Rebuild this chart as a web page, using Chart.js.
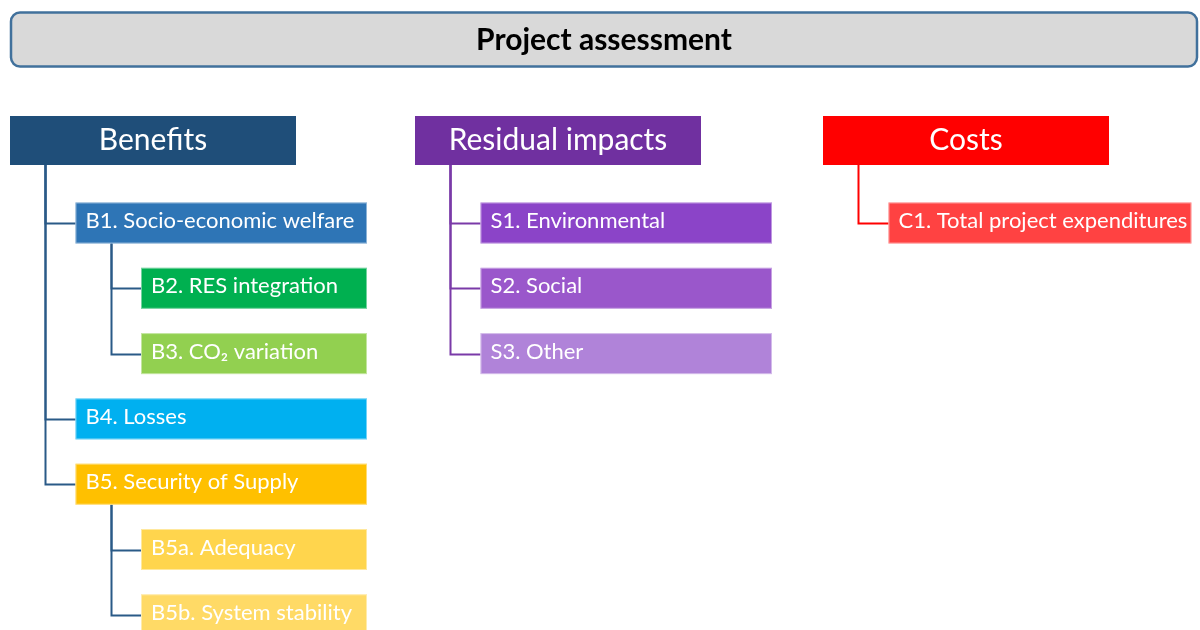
<!DOCTYPE html>
<html>
<head>
<meta charset="utf-8">
<title>Project assessment</title>
<script src="https://cdn.jsdelivr.net/npm/chart.js@4.4.1/dist/chart.umd.min.js"></script>
<style>
    html, body { margin: 0; padding: 0; background: #ffffff; }
    #wrap { width: 1200px; height: 630px; position: relative; }
</style>
</head>
<body>
<div id="wrap"><canvas id="myChart"></canvas></div>
<script>
// Start Data
const TITLE = 'Project assessment';
const GROUPS = ['Benefits', 'Residual impacts', 'Costs'];

const BENEFIT_ITEMS = ['B1. Socio-economic welfare', 'B2. RES integration', 'B3. CO\u2082 variation', 'B4. Losses',
    'B5. Security of Supply', 'B5a. Adequacy', 'B5b. System stability'];
const BENEFIT_LEVELS = [1, 2, 2, 1, 1, 2, 2];

const RESIDUAL_ITEMS = ['S1. Environmental', 'S2. Social', 'S3. Other'];
const RESIDUAL_LEVELS = [1, 1, 1];

const COST_ITEMS = ['C1. Total project expenditures'];
const COST_LEVELS = [1];
// !!End Data

// Start Styles
const GROUP_COLORS = ['#1f4e79', '#7030a0', '#ff0000'];
const LINE_COLORS = ['#2a5a87', '#7a3aa8', '#ff0000'];
const BENEFIT_COLORS = ['#2e75b6', '#00b050', '#92d050', '#00b0f0', '#ffc000', '#ffd54d', '#ffda66'];
const RESIDUAL_COLORS = ['#8b44c8', '#9a57cb', '#b083d9'];
const COST_COLORS = ['#ff4242'];
const FONT = 'Lato, "Open Sans", "DejaVu Sans", sans-serif';
// !!End Styles

// layout (scale units: x in px, y in rows)
const GROUP_X = [10, 415, 823];
const INDENT = 65.5;
const HEADER_W = 286;
const ITEM_RIGHT = 357;     // right edge of item boxes, from group left
const ROW_PX = 65.3;
const FIRST_ROW_PX = 223;
const HEADER_ROW = (140.5 - FIRST_ROW_PX) / ROW_PX;
const TITLE_ROW = (39.5 - FIRST_ROW_PX) / ROW_PX;
const BOX_H = 41, HEADER_H = 49;

const ITEMS = [BENEFIT_ITEMS, RESIDUAL_ITEMS, COST_ITEMS];
const LEVELS = [BENEFIT_LEVELS, RESIDUAL_LEVELS, COST_LEVELS];
const ITEM_COLORS = [BENEFIT_COLORS, RESIDUAL_COLORS, COST_COLORS];

// point 0 of each dataset is the header, the rest are items
const datasets = GROUPS.map(function (name, g) {
    const pts = [{ x: GROUP_X[g], y: HEADER_ROW }];
    ITEMS[g].forEach(function (label, i) {
        pts.push({ x: GROUP_X[g] + LEVELS[g][i] * INDENT, y: i });
    });
    return { label: name, data: pts, pointRadius: 0, showLine: false };
});

function parentOf(g, i) {
    const lv = LEVELS[g][i];
    for (let j = i - 1; j >= 0; j--) {
        if (LEVELS[g][j] === lv - 1) return j + 1;
    }
    return 0; // header
}

const treePlugin = {
    id: 'tree',
    afterDatasetsDraw(chart) {
        const ctx = chart.ctx;
        const xs = chart.scales.x, ys = chart.scales.y;
        ctx.save();

        // title bar
        const tx0 = xs.getPixelForValue(10), tx1 = xs.getPixelForValue(1198);
        const ty = ys.getPixelForValue(TITLE_ROW);
        ctx.beginPath();
        ctx.roundRect(tx0 + 1, ty - 27, tx1 - tx0 - 2, 54, 9);
        ctx.fillStyle = '#d9d9d9';
        ctx.fill();
        ctx.lineWidth = 2.5;
        ctx.strokeStyle = '#41719c';
        ctx.stroke();
        ctx.fillStyle = '#000000';
        ctx.font = 'bold 30px ' + FONT;
        ctx.textAlign = 'center';
        ctx.textBaseline = 'middle';
        ctx.fillText(TITLE, (tx0 + tx1) / 2, ty + 1);

        GROUPS.forEach(function (name, g) {
            const pts = chart.getDatasetMeta(g).data;
            const left = xs.getPixelForValue(GROUP_X[g]);

            // connectors
            ctx.strokeStyle = LINE_COLORS[g];
            ctx.lineWidth = 2;
            ITEMS[g].forEach(function (label, i) {
                const p = pts[parentOf(g, i)];
                const c = pts[i + 1];
                const vx = Math.round(p.x + 35) + 0.5;
                const top = p.y + (parentOf(g, i) === 0 ? HEADER_H : BOX_H) / 2;
                ctx.beginPath();
                ctx.moveTo(vx, top);
                ctx.lineTo(vx, Math.round(c.y) + 0.5);
                ctx.lineTo(c.x, Math.round(c.y) + 0.5);
                ctx.stroke();
            });

            // header
            const h = pts[0];
            ctx.fillStyle = GROUP_COLORS[g];
            ctx.fillRect(h.x, h.y - HEADER_H / 2, HEADER_W, HEADER_H);
            ctx.fillStyle = '#ffffff';
            ctx.font = '30px ' + FONT;
            ctx.textAlign = 'center';
            ctx.fillText(name, h.x + HEADER_W / 2, h.y);

            // items
            ctx.font = '22px ' + FONT;
            ctx.textAlign = 'left';
            ITEMS[g].forEach(function (label, i) {
                const c = pts[i + 1];
                const tw = ctx.measureText(label).width;
                const right = Math.min(xs.getPixelForValue(1198), Math.max(left + ITEM_RIGHT, c.x + tw + 14));
                ctx.fillStyle = ITEM_COLORS[g][i];
                ctx.fillRect(c.x, c.y - BOX_H / 2, right - c.x, BOX_H);
                ctx.strokeStyle = 'rgba(255,255,255,0.45)';
                ctx.lineWidth = 1;
                ctx.strokeRect(c.x + 0.5, c.y - BOX_H / 2 + 0.5, right - c.x - 1, BOX_H - 1);
                ctx.fillStyle = '#ffffff';
                ctx.fillText(label, c.x + 10, c.y - 2);
            });
        });
        ctx.restore();
    }
};

new Chart(document.getElementById('myChart'), {
    type: 'scatter',
    data: { datasets: datasets },
    options: {
        responsive: true,
        maintainAspectRatio: false,
        animation: false,
        events: [],
        layout: { padding: 0 },
        scales: {
            x: { type: 'linear', min: 0, max: 1200, display: false },
            y: {
                type: 'linear', reverse: true, display: false,
                min: -FIRST_ROW_PX / ROW_PX,
                max: (630 - FIRST_ROW_PX) / ROW_PX
            }
        },
        plugins: {
            legend: { display: false },
            tooltip: { enabled: false }
        }
    },
    plugins: [treePlugin]
});
</script>
</body>
</html>
